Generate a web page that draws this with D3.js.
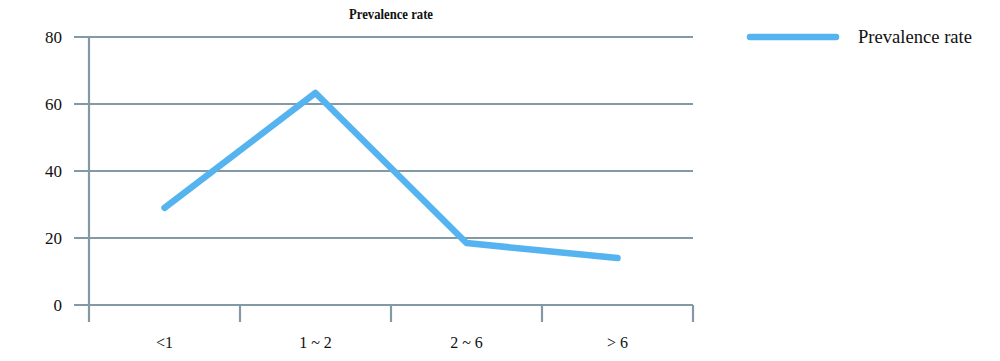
<!DOCTYPE html>
<html><head><meta charset="utf-8">
<script src="https://cdn.jsdelivr.net/npm/d3@7"></script>
<style>body{margin:0;background:#fff}svg{display:block}</style>
</head><body><svg id="c" width="1000" height="361"></svg>
<script>
const categories = ["<1", "1 ~ 2", "2 ~ 6", "> 6"];
const seriesName = "Prevalence rate";
const values = [29, 63.3, 18.5, 14];
const yTicks = [0, 20, 40, 60, 80];

const svg = d3.select("#c");
const font = "'Liberation Serif', 'DejaVu Serif', serif";
const axisColor = "#8499a6";
const lineColor = "#55b4ef";

const x = d3.scaleBand().domain(categories).range([89, 693]);
const y = d3.scaleLinear().domain([0, 80]).range([305, 37]);

// gridlines
svg.append("g").selectAll("line").data(yTicks).join("line")
  .attr("x1", 74).attr("x2", 693)
  .attr("y1", d => y(d)).attr("y2", d => y(d))
  .attr("stroke", axisColor).attr("stroke-width", 2.2);

// y axis line
svg.append("line").attr("x1", 89).attr("x2", 89).attr("y1", y(80)).attr("y2", 322)
  .attr("stroke", axisColor).attr("stroke-width", 2.2);

// x ticks at band edges
const edges = categories.map(c => x(c)).concat([x.range()[1]]);
svg.append("g").selectAll("line").data(edges.slice(1)).join("line")
  .attr("x1", d => d).attr("x2", d => d).attr("y1", 305).attr("y2", 322)
  .attr("stroke", axisColor).attr("stroke-width", 2.2);

// y labels
svg.append("g").selectAll("text").data(yTicks).join("text")
  .attr("x", 62).attr("y", d => y(d)).attr("dy", "0.35em")
  .attr("text-anchor", "end").attr("font-family", font).attr("font-size", 17)
  .attr("fill", "#111").text(d => d);

// x labels
svg.append("g").selectAll("text").data(categories).join("text")
  .attr("x", d => x(d) + x.bandwidth() / 2).attr("y", 348)
  .attr("text-anchor", "middle").attr("font-family", font).attr("font-size", 16)
  .attr("fill", "#111").text(d => d);

// line
const line = d3.line().x((d, i) => x(categories[i]) + x.bandwidth() / 2).y(d => y(d));
svg.append("path").datum(values).attr("d", line)
  .attr("fill", "none").attr("stroke", lineColor).attr("stroke-width", 6.5)
  .attr("stroke-linejoin", "round").attr("stroke-linecap", "round");

// title
svg.append("text").attr("x", 391).attr("y", 19).attr("text-anchor", "middle")
  .attr("font-family", font).attr("font-weight", "bold").attr("font-size", 14.5)
  .attr("textLength", 84).attr("lengthAdjust", "spacingAndGlyphs")
  .attr("fill", "#111").text(seriesName);

// legend
svg.append("line").attr("x1", 750).attr("x2", 836).attr("y1", 37).attr("y2", 37)
  .attr("stroke", lineColor).attr("stroke-width", 6.5).attr("stroke-linecap", "round");
svg.append("text").attr("x", 858).attr("y", 37).attr("dy", "0.35em")
  .attr("font-family", font).attr("font-size", 18)
  .attr("textLength", 114).attr("lengthAdjust", "spacingAndGlyphs")
  .attr("fill", "#111").text(seriesName);
</script></body></html>
